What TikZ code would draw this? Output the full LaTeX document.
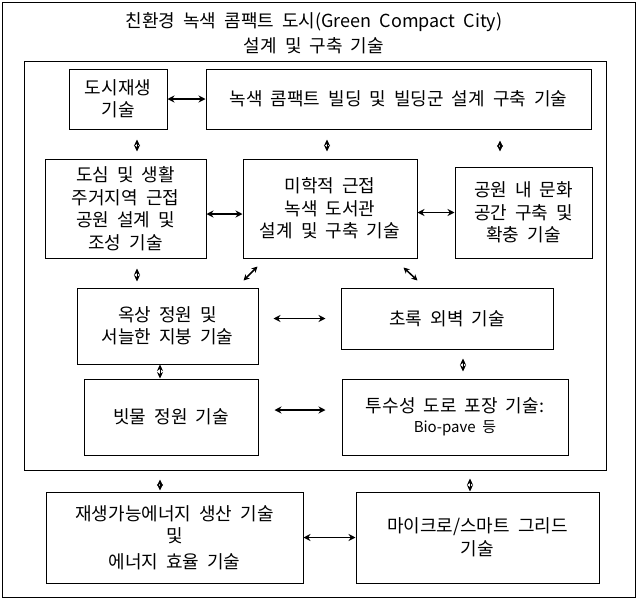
\documentclass[tikz,border=0pt]{standalone}
\usepackage{fontspec}
\setmainfont[WordSpace=2.0]{Noto Sans CJK KR}
\usetikzlibrary{arrows.meta}
\begin{document}
\begin{tikzpicture}[x=1pt,y=-1pt,
  frame/.style={draw, line width=1pt, inner sep=0pt},
  box/.style={draw, line width=1pt, align=center, inner sep=0pt, font=\fontsize{18}{22.5}\selectfont},
  harr/.style={{Stealth[length=7pt,width=7pt]}-{Stealth[length=7pt,width=7pt]}, line width=1.8pt},
  darr/.style={{Stealth[length=6pt,width=6pt]}-{Stealth[length=6pt,width=6pt]}, line width=1.5pt},
  varr/.style={{Stealth[length=6.5pt,width=6pt]}-{Stealth[length=6.5pt,width=6pt]}, line width=0.8pt},
]
\useasboundingbox (0,0) rectangle (638,600);
% frames
\node[frame, minimum width=633pt, minimum height=595pt] (outer) at (318.5,299.5) {};
\node[frame, minimum width=582pt, minimum height=409pt] (inner) at (315,265.5) {};
\node[font=\fontsize{18}{25}\selectfont, align=center, inner sep=0pt] (title) at (314,33.5)
  {친환경 녹색 콤팩트 도시(Green Compact City)\\설계 및 구축 기술};
% boxes
\node[box, minimum width=98pt, minimum height=60pt] (A) at (118,99) {도시재생\\기술};
\node[box, minimum width=385pt, minimum height=60pt] (B) at (398.5,99) {녹색 콤팩트 빌딩 및 빌딩군 설계 구축 기술};
\node[box, minimum width=161pt, minimum height=99pt] (C) at (125.5,208.5) {도심 및 생활\\주거지역 근접\\공원 설계 및\\조성 기술};
\node[box, minimum width=174pt, minimum height=99pt] (D) at (330,208.5) {미학적 근접\\녹색 도서관\\설계 및 구축 기술};
\node[box, minimum width=137pt, minimum height=91pt] (E) at (523.5,212.5) {공원 내 문화\\공간 구축 및\\확충 기술};
\node[box, minimum width=181pt, minimum height=76pt] (F) at (167.5,326) {옥상 정원 및\\서늘한 지붕 기술};
\node[box, minimum width=212pt, minimum height=61pt] (G) at (447,318.5) {초록 외벽 기술};
\node[box, minimum width=174pt, minimum height=76pt] (H) at (171,417) {빗물 정원 기술};
\node[box, minimum width=226pt, minimum height=76pt] (I) at (455,417) {투수성 도로 포장 기술:\\[-3pt]{\fontsize{15}{17}\selectfont Bio-pave 등}};
\node[box, minimum width=257pt, minimum height=91pt] (J) at (174.5,537.5) {재생가능에너지 생산 기술\\및\\[3pt]에너지 효율 기술};
\node[box, minimum width=243pt, minimum height=91pt] (K) at (477.5,537.5) {마이크로/스마트 그리드\\기술};
% horizontal connectors
\draw[harr] (A.east) -- (B.west);
\draw[harr] ([yshift=-5.5pt]C.east) -- ([yshift=-5.5pt]D.west);
\draw[harr] (D.east |- E.west) -- (E.west);
\draw[harr, shorten <=15pt, shorten >=15pt] (F.east |- G.west) -- (G.west);
\draw[harr, shorten <=16pt, shorten >=16pt] ([yshift=7pt]H.east) -- ([yshift=7pt]I.west);
\draw[harr] (J.east) -- (K.west);
% diagonal connectors
\draw[darr] ([shift={(1,22)}]D.south west) -- ([shift={(15,8)}]D.south west);
\draw[darr] ([shift={(-14,9)}]D.south east) -- ([shift={(0,22)}]D.south east);
% vertical connectors
\draw[varr, shorten <=10pt, shorten >=7pt] ([xshift=19pt]A.south) -- ([xshift=11.5pt]C.north);
\draw[varr, shorten <=10pt, shorten >=7pt] ([xshift=-71.5pt]B.south) -- ([xshift=-3pt]D.north);
\draw[varr, shorten <=11pt, shorten >=15pt] ([xshift=101.5pt]B.south) -- ([xshift=-23.5pt]E.north);
\draw[varr, shorten <=10pt, shorten >=6pt] ([xshift=11.5pt]C.south) -- ([xshift=-30.5pt]F.north);
\draw[varr] ([xshift=-7.5pt]F.south) -- ([xshift=-11pt]H.north);
\draw[varr, shorten <=9pt, shorten >=7pt] ([xshift=16pt]G.south) -- ([xshift=8pt]I.north);
\draw[varr, shorten <=9pt, shorten >=1pt] ([xshift=-155pt]inner.south) -- ([xshift=-14.5pt]J.north);
\draw[varr, shorten <=8pt] ([xshift=155pt]inner.south) -- ([xshift=-7.5pt]K.north);
\end{tikzpicture}
\end{document}
